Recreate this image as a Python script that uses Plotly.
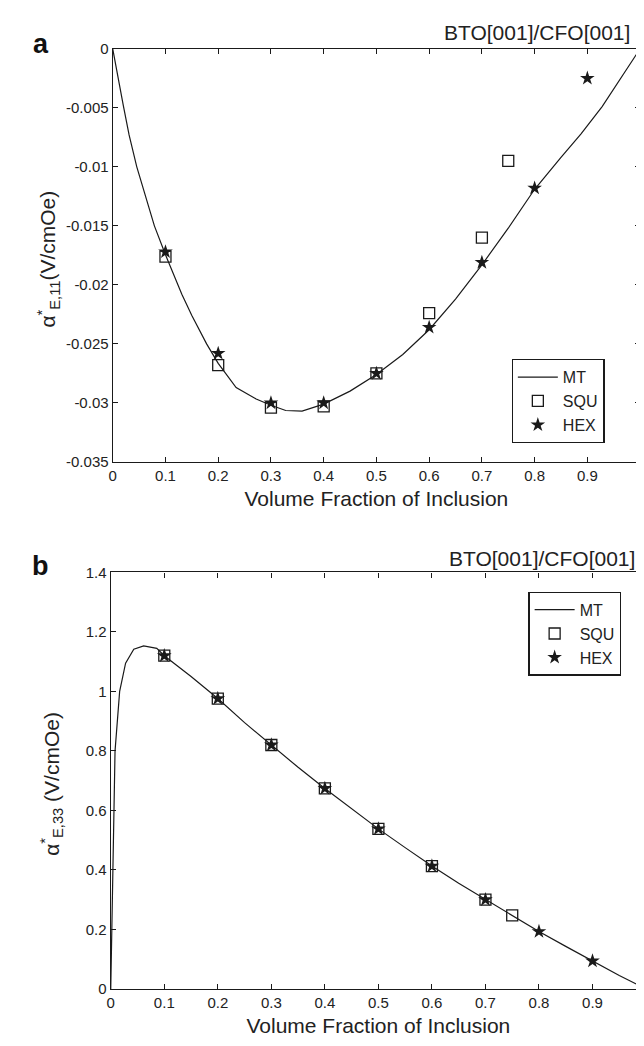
import plotly.graph_objects as go

W, H = 644, 1046

# ---------------- Panel a data ----------------
mt_a_x = [0, 0.01, 0.02, 0.031, 0.0456, 0.079, 0.1, 0.131, 0.15, 0.178, 0.2, 0.234,
          0.272, 0.3, 0.328, 0.359, 0.372, 0.4, 0.45, 0.5, 0.55, 0.6, 0.65, 0.7,
          0.75, 0.8, 0.85, 0.888, 0.928, 0.96, 1.0]
mt_a_y = [0, -0.0025, -0.0048, -0.0073, -0.0100, -0.0150, -0.01745, -0.0208, -0.0226,
          -0.0250, -0.02665, -0.0287, -0.02967, -0.0302, -0.03064, -0.0307, -0.0305,
          -0.0301, -0.0290, -0.0276, -0.0259, -0.0238, -0.0212, -0.0183, -0.0152,
          -0.0119, -0.0092, -0.0072, -0.0049, -0.0027, 0.0]
squ_a_x = [0.1, 0.2, 0.3, 0.4, 0.5, 0.6, 0.7, 0.75]
squ_a_y = [-0.0176, -0.0268, -0.0304, -0.0303, -0.0275, -0.0224, -0.0160, -0.0095]
hex_a_x = [0.1, 0.2, 0.3, 0.4, 0.5, 0.6, 0.7, 0.8, 0.9]
hex_a_y = [-0.0172, -0.0258, -0.0300, -0.0300, -0.0275, -0.0236, -0.0181, -0.0118, -0.0025]

# ---------------- Panel b data ----------------
mt_b_x = [0, 0.002, 0.0037, 0.0055, 0.008, 0.0166, 0.0277, 0.043, 0.0615, 0.086, 0.1,
          0.15, 0.2, 0.25, 0.3, 0.35, 0.4, 0.45, 0.5, 0.55, 0.6, 0.65, 0.7, 0.75,
          0.8, 0.85, 0.9, 0.95, 1.0]
mt_b_y = [0, 0.2, 0.4, 0.6, 0.8, 1.0, 1.095, 1.142, 1.153, 1.145, 1.12, 1.05, 0.976,
          0.895, 0.82, 0.745, 0.674, 0.605, 0.538, 0.475, 0.413, 0.355, 0.300, 0.247,
          0.193, 0.143, 0.093, 0.045, 0.0]
squ_b_x = [0.1, 0.2, 0.3, 0.4, 0.5, 0.6, 0.7, 0.75]
squ_b_y = [1.12, 0.976, 0.82, 0.674, 0.538, 0.413, 0.300, 0.247]
hex_b_x = [0.1, 0.2, 0.3, 0.4, 0.5, 0.6, 0.7, 0.8, 0.9]
hex_b_y = [1.12, 0.976, 0.82, 0.674, 0.538, 0.413, 0.300, 0.193, 0.094]

# ---------------- Ticks ----------------
x_tickvals = [0, 0.1, 0.2, 0.3, 0.4, 0.5, 0.6, 0.7, 0.8, 0.9, 1.0]
x_ticktext = ["0", "0.1", "0.2", "0.3", "0.4", "0.5", "0.6", "0.7", "0.8", "0.9", "1"]
ya_tickvals = [0, -0.005, -0.01, -0.015, -0.02, -0.025, -0.03, -0.035]
ya_ticktext = ["0", "-0.005", "-0.01", "-0.015", "-0.02", "-0.025", "-0.03", "-0.035"]
yb_tickvals = [0, 0.2, 0.4, 0.6, 0.8, 1.0, 1.2, 1.4]
yb_ticktext = ["0", "0.2", "0.4", "0.6", "0.8", "1", "1.2", "1.4"]

FONT = "Liberation Sans, Arial, Helvetica, sans-serif"
INK = "#1a1a1a"

def px_x(p):
    return p / W

def px_y(p):
    return 1 - p / H

fig = go.Figure()

line_style = dict(color=INK, width=1.2)
squ_marker = dict(symbol="square-open", size=11, color=INK, line=dict(width=1.3, color=INK))
hex_marker = dict(symbol="star", size=11, color=INK, line=dict(width=0))

# Panel a
fig.add_trace(go.Scatter(x=mt_a_x, y=mt_a_y, mode="lines", name="MT", line=line_style,
                         xaxis="x", yaxis="y", legend="legend"))
fig.add_trace(go.Scatter(x=squ_a_x, y=squ_a_y, mode="markers", name="SQU", marker=squ_marker,
                         xaxis="x", yaxis="y", legend="legend"))
fig.add_trace(go.Scatter(x=hex_a_x, y=hex_a_y, mode="markers", name="HEX", marker=hex_marker,
                         xaxis="x", yaxis="y", legend="legend"))
# Panel b
fig.add_trace(go.Scatter(x=mt_b_x, y=mt_b_y, mode="lines", name="MT", line=line_style,
                         xaxis="x2", yaxis="y2", legend="legend2"))
fig.add_trace(go.Scatter(x=squ_b_x, y=squ_b_y, mode="markers", name="SQU", marker=squ_marker,
                         xaxis="x2", yaxis="y2", legend="legend2"))
fig.add_trace(go.Scatter(x=hex_b_x, y=hex_b_y, mode="markers", name="HEX", marker=hex_marker,
                         xaxis="x2", yaxis="y2", legend="legend2"))

axis_common = dict(showline=True, linecolor=INK, linewidth=1.3, mirror="ticks",
                   ticks="inside", ticklen=5, tickwidth=1, tickcolor=INK,
                   showgrid=False, zeroline=False,
                   tickfont=dict(family=FONT, size=15, color="#222"))

fig.update_layout(
    width=W, height=H,
    margin=dict(l=0, r=0, t=0, b=0),
    paper_bgcolor="white", plot_bgcolor="white",
    font=dict(family=FONT, color="#222"),
    xaxis=dict(domain=[px_x(102), px_x(636)], range=[0, 1], anchor="y",
               tickvals=x_tickvals, ticktext=x_ticktext,
               title=dict(text="Volume Fraction of Inclusion",
                          font=dict(family=FONT, size=21, color="#222"), standoff=8),
               **axis_common),
    yaxis=dict(domain=[px_y(452.3), px_y(32.3)], range=[-0.035, 0], anchor="x",
               tickvals=ya_tickvals, ticktext=ya_ticktext, **axis_common),
    xaxis2=dict(domain=[px_x(100), px_x(642)], range=[0, 1], anchor="y2",
                tickvals=x_tickvals, ticktext=x_ticktext,
                title=dict(text="Volume Fraction of Inclusion",
                           font=dict(family=FONT, size=21, color="#222"), standoff=8),
                **axis_common),
    yaxis2=dict(domain=[px_y(988), px_y(564.6)], range=[0, 1.4], anchor="x2",
                tickvals=yb_tickvals, ticktext=yb_ticktext, **axis_common),
    legend=dict(x=px_x(600), y=px_y(433), xanchor="right", yanchor="bottom",
                bgcolor="white", bordercolor=INK, borderwidth=1.3,
                font=dict(family=FONT, size=16, color="#222"), tracegroupgap=0,
                itemwidth=40),
    legend2=dict(x=px_x(617), y=px_y(584), xanchor="right", yanchor="top",
                 bgcolor="white", bordercolor=INK, borderwidth=1.3,
                 font=dict(family=FONT, size=16, color="#222"), tracegroupgap=0,
                 itemwidth=40),
    showlegend=True,
)

annotations = [
    dict(text="<b>a</b>", x=px_x(29), y=px_y(27), xref="paper", yref="paper",
         showarrow=False, font=dict(family=FONT, size=27, color="#111"),
         xanchor="center", yanchor="middle"),
    dict(text="BTO[001]/CFO[001]", x=px_x(628), y=px_y(16), xref="paper", yref="paper",
         showarrow=False, font=dict(family=FONT, size=21, color="#222"),
         xanchor="right", yanchor="middle"),
    dict(text="α<sup>*</sup><sub>E,11</sub>(V/cmOe)", x=px_x(36), y=px_y(246),
         xref="paper", yref="paper", showarrow=False, textangle=-90,
         font=dict(family=FONT, size=21, color="#222"), xanchor="center", yanchor="middle"),
    dict(text="<b>b</b>", x=px_x(29), y=px_y(558), xref="paper", yref="paper",
         showarrow=False, font=dict(family=FONT, size=27, color="#111"),
         xanchor="center", yanchor="middle"),
    dict(text="BTO[001]/CFO[001]", x=px_x(633), y=px_y(550), xref="paper", yref="paper",
         showarrow=False, font=dict(family=FONT, size=21, color="#222"),
         xanchor="right", yanchor="middle"),
    dict(text="α<sup>*</sup><sub>E,33</sub> (V/cmOe)", x=px_x(40), y=px_y(780),
         xref="paper", yref="paper", showarrow=False, textangle=-90,
         font=dict(family=FONT, size=21, color="#222"), xanchor="center", yanchor="middle"),
]
fig.update_layout(annotations=annotations)

fig.write_html("out.html")
